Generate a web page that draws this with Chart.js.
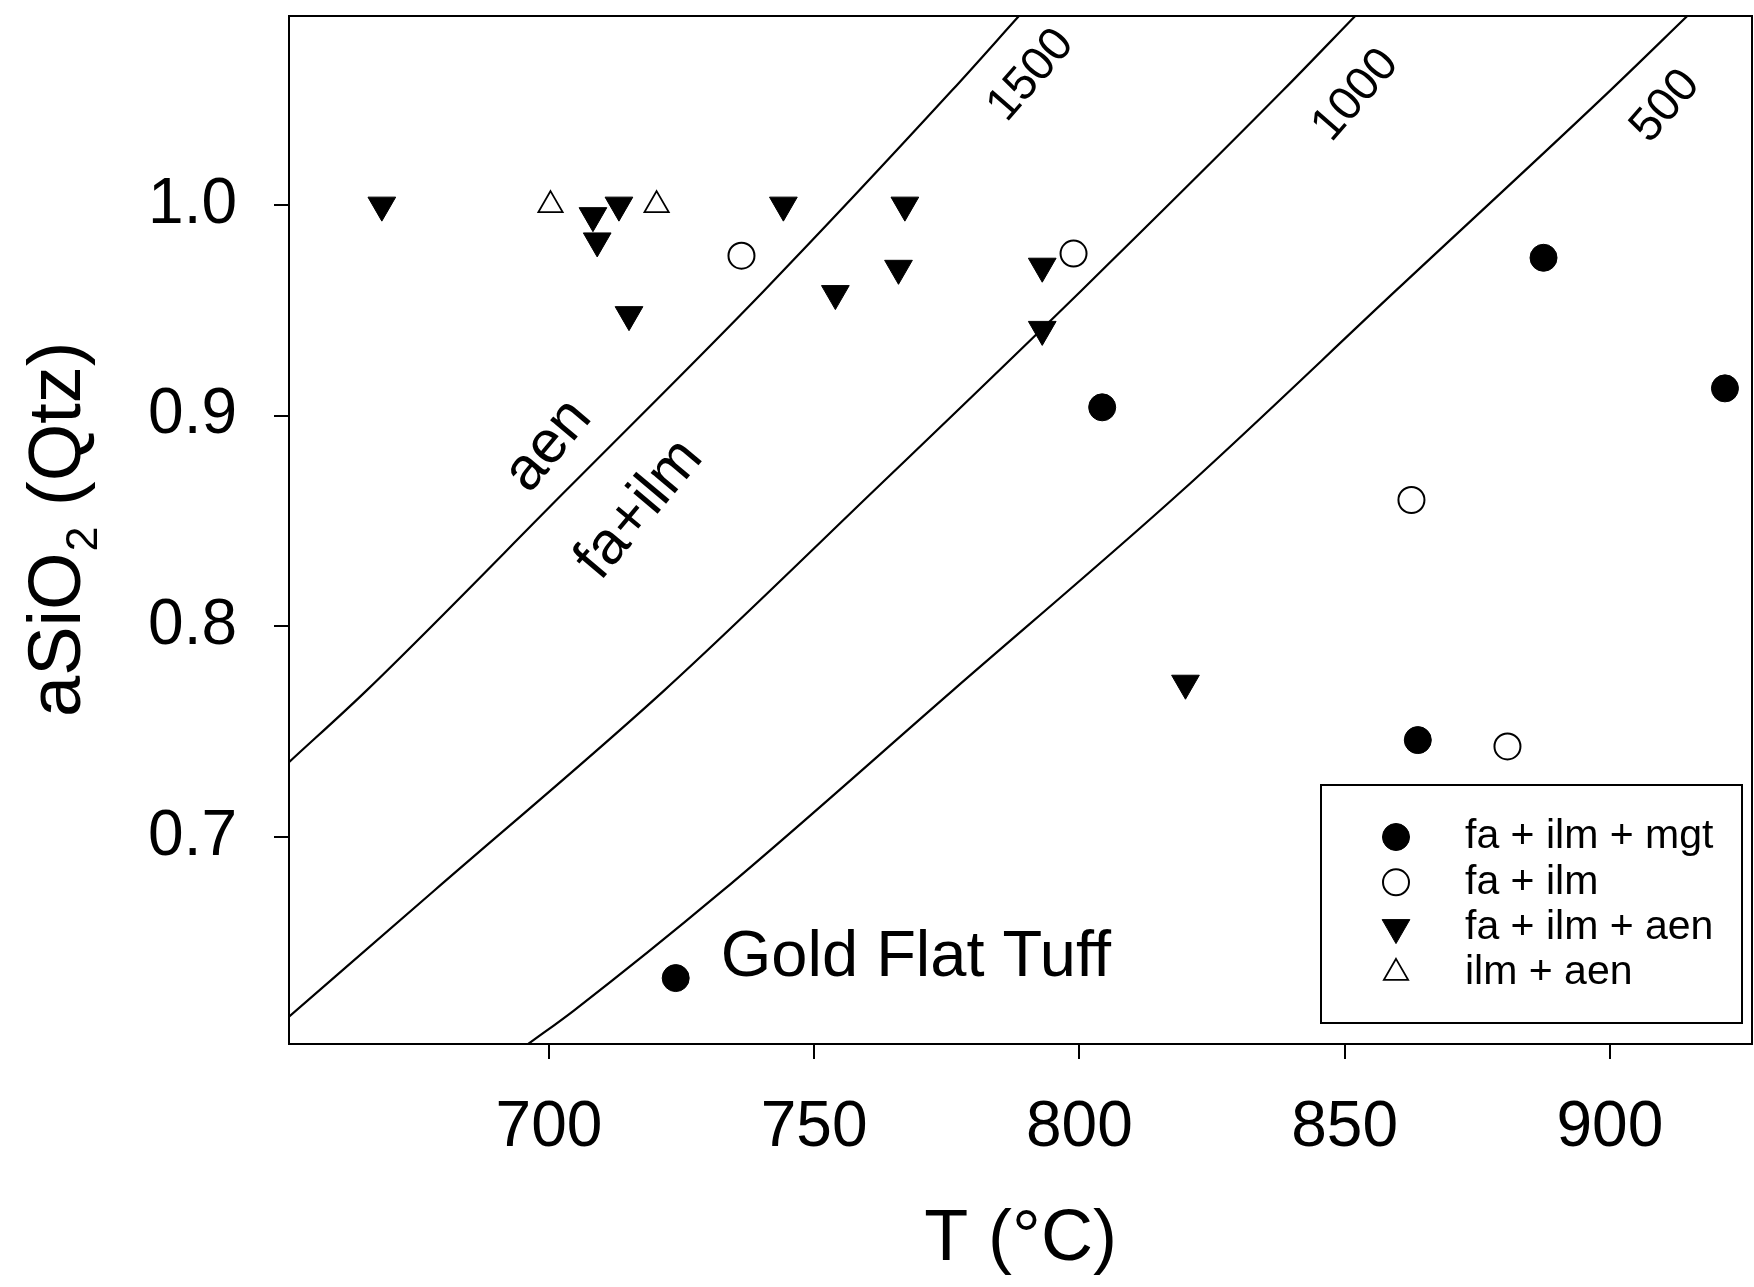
<!DOCTYPE html>
<html>
<head>
<meta charset="utf-8">
<title>aSiO2 (Qtz) vs T</title>
<script src="https://cdn.jsdelivr.net/npm/chart.js@4.4.1/dist/chart.umd.min.js"></script>
<style>
  html, body { margin: 0; padding: 0; background: #fff; }
  #wrap { width: 1754px; height: 1287px; }
</style>
</head>
<body>
<div id="wrap"><canvas id="qtzChart" width="1754" height="1287"></canvas></div>
<script>
// sample points (T in degC, aSiO2)
const tMgt = [723.9, 804.3, 863.8, 887.5, 921.7];
const aMgt = [0.633, 0.904, 0.746, 0.975, 0.913];

const tIlm = [736.3, 798.9, 862.6, 880.7];
const aIlm = [0.976, 0.977, 0.860, 0.743];

const tAen = [668.5, 708.3, 709.1, 713.2, 715.1, 744.2, 754.0, 765.9, 767.1, 793.0, 793.0, 820.0];
const aAen = [1.0, 0.995, 0.983, 1.0, 0.948, 1.0, 0.958, 0.970, 1.0, 0.971, 0.941, 0.773];

const tIlmAen = [700.3, 720.3];
const aIlmAen = [1.0, 1.0];

// isobars (bar)
const t1500 = [651, 665.6, 703.2, 740.6, 776.0, 788.6];
const a1500 = [0.7355, 0.7695, 0.8645, 0.9595, 1.0545, 1.0898];
const t1000 = [651, 678.4, 721.7, 761.3, 800.4, 838.4, 852.0];
const a1000 = [0.6147, 0.6746, 0.7695, 0.8645, 0.9595, 1.0545, 1.0898];
const t500 = [696.1, 704.7, 732.8, 776.1, 819.4, 859.7, 900.1, 914.6];
const a500 = [0.6017, 0.6176, 0.6746, 0.7695, 0.8645, 0.9595, 1.0545, 1.0898];

const xTicks = [700, 750, 800, 850, 900];
const yTicks = [0.7, 0.8, 0.9, 1.0];

const FONT = '"Liberation Sans", Arial, sans-serif';
Chart.defaults.font.family = FONT;
Chart.defaults.color = '#000';

function pts(xs, ys) {
  return xs.map((x, i) => ({ x: x, y: ys[i] }));
}

function curve(label, xs, ys) {
  return {
    type: 'line',
    label: label,
    data: pts(xs, ys),
    showLine: true,
    borderColor: '#000',
    borderWidth: 2.2,
    pointRadius: 0,
    fill: false,
    cubicInterpolationMode: 'monotone'
  };
}

// text placed in data units
const annotations = [
  { text: '1500', t: 790.9, a: 1.0616, angle: -49, size: 47 },
  { text: '1000', t: 852.1, a: 1.0521, angle: -49, size: 47 },
  { text: '500', t: 910.5, a: 1.0469, angle: -49, size: 47 },
  { text: 'aen', t: 699.9, a: 0.8857, angle: -50, size: 60 },
  { text: 'fa+ilm', t: 717.1, a: 0.8555, angle: -50, size: 60 }
];

// drop the automatic label overhang so the plot box sits where it should
function noPad(s) {
  s.paddingTop = 0;
  s.paddingBottom = 0;
  s.paddingLeft = 0;
  s.paddingRight = 0;
}

const framePlugin = {
  id: 'frame',
  beforeDraw(chart) {
    const ctx = chart.ctx;
    ctx.save();
    ctx.fillStyle = '#fff';
    ctx.fillRect(0, 0, chart.width, chart.height);
    ctx.restore();
  },
  afterDatasetsDraw(chart) {
    const { ctx, chartArea: ca, scales } = chart;
    ctx.save();
    ctx.strokeStyle = '#000';
    ctx.lineWidth = 2;
    ctx.strokeRect(ca.left, ca.top, ca.right - ca.left, ca.bottom - ca.top);

    ctx.fillStyle = '#000';
    annotations.forEach(an => {
      const px = scales.x.getPixelForValue(an.t);
      const py = scales.y.getPixelForValue(an.a);
      ctx.save();
      ctx.translate(px, py);
      ctx.rotate(an.angle * Math.PI / 180);
      ctx.font = an.size + 'px ' + FONT;
      ctx.textAlign = 'center';
      ctx.textBaseline = 'middle';
      ctx.fillText(an.text, 0, 0);
      ctx.restore();
    });

    // sample name next to its point
    ctx.font = '65px ' + FONT;
    ctx.textAlign = 'left';
    ctx.textBaseline = 'alphabetic';
    ctx.fillText('Gold Flat Tuff', scales.x.getPixelForValue(732.4), scales.y.getPixelForValue(0.6342));

    // y title with subscript
    ctx.save();
    ctx.translate(80, 717);
    ctx.rotate(-Math.PI / 2);
    ctx.textAlign = 'left';
    ctx.textBaseline = 'alphabetic';
    ctx.font = '74px ' + FONT;
    ctx.fillText('aSiO', 0, 0);
    let w = ctx.measureText('aSiO').width;
    ctx.font = '45px ' + FONT;
    ctx.fillText('2', w + 1, 17);
    w += ctx.measureText('2').width + 1;
    ctx.font = '74px ' + FONT;
    ctx.fillText(' (Qtz)', w, 0);
    ctx.restore();

    ctx.restore();
  }
};

// legend box in lower right of the plot
const legendPlugin = {
  id: 'boxLegend',
  afterDraw(chart) {
    const ctx = chart.ctx;
    const box = { left: 1321, top: 785, width: 421, height: 238 };
    ctx.save();
    ctx.fillStyle = '#fff';
    ctx.fillRect(box.left, box.top, box.width, box.height);
    ctx.strokeStyle = '#000';
    ctx.lineWidth = 2;
    ctx.strokeRect(box.left, box.top, box.width, box.height);

    chart.data.datasets.slice(0, 4).forEach((ds, i) => {
      const y = box.top + 52 + i * 45.3;
      ctx.fillStyle = ds.backgroundColor;
      ctx.strokeStyle = ds.borderColor;
      ctx.lineWidth = ds.borderWidth;
      Chart.helpers.drawPoint(ctx, {
        pointStyle: ds.pointStyle,
        rotation: ds.rotation || 0,
        radius: ds.pointRadius,
        borderWidth: ds.borderWidth
      }, box.left + 75, y);
      ctx.fillStyle = '#000';
      ctx.font = '41px ' + FONT;
      ctx.textAlign = 'left';
      ctx.textBaseline = 'middle';
      ctx.fillText(ds.label, box.left + 144, y);
    });
    ctx.restore();
  }
};

new Chart(document.getElementById('qtzChart'), {
  type: 'scatter',
  plugins: [framePlugin, legendPlugin],
  data: {
    datasets: [
      {
        label: 'fa + ilm + mgt', data: pts(tMgt, aMgt),
        pointStyle: 'circle', pointRadius: 13.5,
        backgroundColor: '#000', borderColor: '#000', borderWidth: 1
      },
      {
        label: 'fa + ilm', data: pts(tIlm, aIlm),
        pointStyle: 'circle', pointRadius: 13,
        backgroundColor: '#fff', borderColor: '#000', borderWidth: 2
      },
      {
        label: 'fa + ilm + aen', data: pts(tAen, aAen),
        pointStyle: 'triangle', rotation: 180, pointRadius: 16,
        backgroundColor: '#000', borderColor: '#000', borderWidth: 1
      },
      {
        label: 'ilm + aen', data: pts(tIlmAen, aIlmAen),
        pointStyle: 'triangle', pointRadius: 14,
        backgroundColor: '#fff', borderColor: '#000', borderWidth: 1.8
      },
      curve('1500', t1500, a1500),
      curve('1000', t1000, a1000),
      curve('500', t500, a500)
    ]
  },
  options: {
    responsive: false,
    animation: false,
    events: [],
    layout: { autoPadding: false, padding: { top: 16, right: 2, bottom: 0, left: 0 } },
    plugins: { legend: { display: false }, tooltip: { enabled: false } },
    scales: {
      x: {
        type: 'linear',
        min: 651,
        max: 926.8,
        afterBuildTicks: s => { s.ticks = xTicks.map(v => ({ value: v })); },
        afterFit: s => { s.height = 243; noPad(s); },
        border: { display: false },
        grid: { drawOnChartArea: false, drawTicks: true, tickLength: 15, color: '#000', lineWidth: 2 },
        ticks: { color: '#000', font: { size: 64 }, padding: 31, maxRotation: 0, autoSkip: false },
        title: { display: true, text: 'T (°C)', color: '#000', font: { size: 72 }, padding: { top: 0, bottom: 4 } }
      },
      y: {
        type: 'linear',
        min: 0.6017,
        max: 1.0898,
        afterBuildTicks: s => { s.ticks = yTicks.map(v => ({ value: v })); },
        afterFit: s => { s.width = 289; noPad(s); },
        border: { display: false },
        grid: { drawOnChartArea: false, drawTicks: true, tickLength: 15, color: '#000', lineWidth: 2 },
        ticks: { color: '#000', font: { size: 64 }, padding: 37, autoSkip: false, callback: v => v.toFixed(1) }
      }
    }
  }
});
</script>
</body>
</html>
